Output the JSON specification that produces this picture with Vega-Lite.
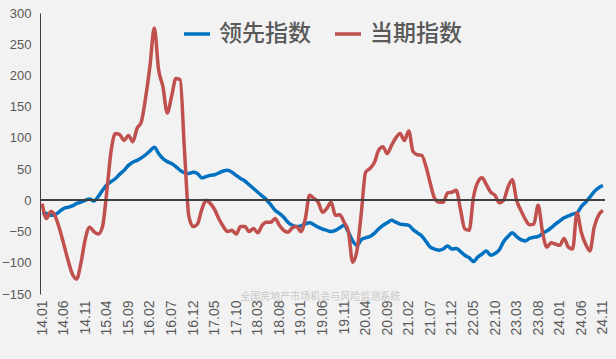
{
"$schema": "https://vega.github.io/schema/vega-lite/v6.json",
"autosize": {"type": "none"},
"width": 565, "height": 281,
"padding": {"left": 40, "top": 13, "right": 11, "bottom": 65},
"background": "#f2f2f2",
"config": {"view": {"stroke": null}, "font": "Liberation Sans",
"axisY": {"values": [-150,-100,-50,0,50,100,150,200,250,300], "labelOverlap": false, "grid": false, "ticks": false, "domainColor": "#404040", "labelFontSize": 13, "labelColor": "#595959", "labelPadding": 9, "title": null}},
"data": {"values": [
{"m":"14.01","s":"领先指数","v":-20},{"m":"14.02","s":"领先指数","v":-21},{"m":"14.03","s":"领先指数","v":-24},{"m":"14.04","s":"领先指数","v":-23},{"m":"14.05","s":"领先指数","v":-18},{"m":"14.06","s":"领先指数","v":-13},{"m":"14.07","s":"领先指数","v":-11},{"m":"14.08","s":"领先指数","v":-9},{"m":"14.09","s":"领先指数","v":-5},{"m":"14.10","s":"领先指数","v":-3},{"m":"14.11","s":"领先指数","v":0},{"m":"14.12","s":"领先指数","v":2},
{"m":"15.01","s":"领先指数","v":-1},{"m":"15.02","s":"领先指数","v":6},{"m":"15.03","s":"领先指数","v":16},{"m":"15.04","s":"领先指数","v":25},{"m":"15.05","s":"领先指数","v":30},{"m":"15.06","s":"领先指数","v":35},{"m":"15.07","s":"领先指数","v":42},{"m":"15.08","s":"领先指数","v":48},{"m":"15.09","s":"领先指数","v":56},{"m":"15.10","s":"领先指数","v":61},{"m":"15.11","s":"领先指数","v":64},{"m":"15.12","s":"领先指数","v":68},
{"m":"16.01","s":"领先指数","v":73},{"m":"16.02","s":"领先指数","v":79},{"m":"16.03","s":"领先指数","v":85},{"m":"16.04","s":"领先指数","v":75},{"m":"16.05","s":"领先指数","v":67},{"m":"16.06","s":"领先指数","v":62},{"m":"16.07","s":"领先指数","v":59},{"m":"16.08","s":"领先指数","v":54},{"m":"16.09","s":"领先指数","v":48},{"m":"16.10","s":"领先指数","v":44},{"m":"16.11","s":"领先指数","v":43},{"m":"16.12","s":"领先指数","v":45},
{"m":"17.01","s":"领先指数","v":43},{"m":"17.02","s":"领先指数","v":36},{"m":"17.03","s":"领先指数","v":38},{"m":"17.04","s":"领先指数","v":40},{"m":"17.05","s":"领先指数","v":41},{"m":"17.06","s":"领先指数","v":44},{"m":"17.07","s":"领先指数","v":47},{"m":"17.08","s":"领先指数","v":48},{"m":"17.09","s":"领先指数","v":45},{"m":"17.10","s":"领先指数","v":40},{"m":"17.11","s":"领先指数","v":35},{"m":"17.12","s":"领先指数","v":31},
{"m":"18.01","s":"领先指数","v":25},{"m":"18.02","s":"领先指数","v":19},{"m":"18.03","s":"领先指数","v":13},{"m":"18.04","s":"领先指数","v":7},{"m":"18.05","s":"领先指数","v":1},{"m":"18.06","s":"领先指数","v":-7},{"m":"18.07","s":"领先指数","v":-16},{"m":"18.08","s":"领先指数","v":-21},{"m":"18.09","s":"领先指数","v":-27},{"m":"18.10","s":"领先指数","v":-35},{"m":"18.11","s":"领先指数","v":-40},{"m":"18.12","s":"领先指数","v":-42},
{"m":"19.01","s":"领先指数","v":-41},{"m":"19.02","s":"领先指数","v":-38},{"m":"19.03","s":"领先指数","v":-36},{"m":"19.04","s":"领先指数","v":-39},{"m":"19.05","s":"领先指数","v":-43},{"m":"19.06","s":"领先指数","v":-46},{"m":"19.07","s":"领先指数","v":-48},{"m":"19.08","s":"领先指数","v":-50},{"m":"19.09","s":"领先指数","v":-48},{"m":"19.10","s":"领先指数","v":-44},{"m":"19.11","s":"领先指数","v":-40},{"m":"19.12","s":"领先指数","v":-51},
{"m":"20.01","s":"领先指数","v":-65},{"m":"20.02","s":"领先指数","v":-72},{"m":"20.03","s":"领先指数","v":-63},{"m":"20.04","s":"领先指数","v":-60},{"m":"20.05","s":"领先指数","v":-58},{"m":"20.06","s":"领先指数","v":-53},{"m":"20.07","s":"领先指数","v":-46},{"m":"20.08","s":"领先指数","v":-40},{"m":"20.09","s":"领先指数","v":-36},{"m":"20.10","s":"领先指数","v":-32},{"m":"20.11","s":"领先指数","v":-35},{"m":"20.12","s":"领先指数","v":-38},
{"m":"21.01","s":"领先指数","v":-39},{"m":"21.02","s":"领先指数","v":-40},{"m":"21.03","s":"领先指数","v":-47},{"m":"21.04","s":"领先指数","v":-52},{"m":"21.05","s":"领先指数","v":-57},{"m":"21.06","s":"领先指数","v":-66},{"m":"21.07","s":"领先指数","v":-75},{"m":"21.08","s":"领先指数","v":-78},{"m":"21.09","s":"领先指数","v":-80},{"m":"21.10","s":"领先指数","v":-78},{"m":"21.11","s":"领先指数","v":-73},{"m":"21.12","s":"领先指数","v":-78},
{"m":"22.01","s":"领先指数","v":-77},{"m":"22.02","s":"领先指数","v":-82},{"m":"22.03","s":"领先指数","v":-88},{"m":"22.04","s":"领先指数","v":-92},{"m":"22.05","s":"领先指数","v":-98},{"m":"22.06","s":"领先指数","v":-91},{"m":"22.07","s":"领先指数","v":-86},{"m":"22.08","s":"领先指数","v":-81},{"m":"22.09","s":"领先指数","v":-88},{"m":"22.10","s":"领先指数","v":-85},{"m":"22.11","s":"领先指数","v":-79},{"m":"22.12","s":"领先指数","v":-66},
{"m":"23.01","s":"领先指数","v":-58},{"m":"23.02","s":"领先指数","v":-52},{"m":"23.03","s":"领先指数","v":-58},{"m":"23.04","s":"领先指数","v":-63},{"m":"23.05","s":"领先指数","v":-65},{"m":"23.06","s":"领先指数","v":-61},{"m":"23.07","s":"领先指数","v":-59},{"m":"23.08","s":"领先指数","v":-58},{"m":"23.09","s":"领先指数","v":-53},{"m":"23.10","s":"领先指数","v":-49},{"m":"23.11","s":"领先指数","v":-44},{"m":"23.12","s":"领先指数","v":-38},
{"m":"24.01","s":"领先指数","v":-33},{"m":"24.02","s":"领先指数","v":-28},{"m":"24.03","s":"领先指数","v":-25},{"m":"24.04","s":"领先指数","v":-22},{"m":"24.05","s":"领先指数","v":-20},{"m":"24.06","s":"领先指数","v":-10},{"m":"24.07","s":"领先指数","v":-3},{"m":"24.08","s":"领先指数","v":5},{"m":"24.09","s":"领先指数","v":14},{"m":"24.10","s":"领先指数","v":20},{"m":"24.11","s":"领先指数","v":24},
{"m":"14.01","s":"当期指数","v":-5},{"m":"14.02","s":"当期指数","v":-29},{"m":"14.03","s":"当期指数","v":-18},{"m":"14.04","s":"当期指数","v":-25},{"m":"14.05","s":"当期指数","v":-45},{"m":"14.06","s":"当期指数","v":-70},{"m":"14.07","s":"当期指数","v":-96},{"m":"14.08","s":"当期指数","v":-118},{"m":"14.09","s":"当期指数","v":-126},{"m":"14.10","s":"当期指数","v":-100},{"m":"14.11","s":"当期指数","v":-62},{"m":"14.12","s":"当期指数","v":-43},
{"m":"15.01","s":"当期指数","v":-50},{"m":"15.02","s":"当期指数","v":-54},{"m":"15.03","s":"当期指数","v":-42},{"m":"15.04","s":"当期指数","v":15},{"m":"15.05","s":"当期指数","v":80},{"m":"15.06","s":"当期指数","v":107},{"m":"15.07","s":"当期指数","v":105},{"m":"15.08","s":"当期指数","v":96},{"m":"15.09","s":"当期指数","v":104},{"m":"15.10","s":"当期指数","v":94},{"m":"15.11","s":"当期指数","v":115},{"m":"15.12","s":"当期指数","v":126},
{"m":"16.01","s":"当期指数","v":165},{"m":"16.02","s":"当期指数","v":215},{"m":"16.03","s":"当期指数","v":276},{"m":"16.04","s":"当期指数","v":209},{"m":"16.05","s":"当期指数","v":182},{"m":"16.06","s":"当期指数","v":140},{"m":"16.07","s":"当期指数","v":166},{"m":"16.08","s":"当期指数","v":195},{"m":"16.09","s":"当期指数","v":193},{"m":"16.10","s":"当期指数","v":80},{"m":"16.11","s":"当期指数","v":-25},{"m":"16.12","s":"当期指数","v":-42},
{"m":"17.01","s":"当期指数","v":-38},{"m":"17.02","s":"当期指数","v":-15},{"m":"17.03","s":"当期指数","v":0},{"m":"17.04","s":"当期指数","v":-5},{"m":"17.05","s":"当期指数","v":-15},{"m":"17.06","s":"当期指数","v":-30},{"m":"17.07","s":"当期指数","v":-42},{"m":"17.08","s":"当期指数","v":-50},{"m":"17.09","s":"当期指数","v":-48},{"m":"17.10","s":"当期指数","v":-54},{"m":"17.11","s":"当期指数","v":-42},{"m":"17.12","s":"当期指数","v":-42},
{"m":"18.01","s":"当期指数","v":-50},{"m":"18.02","s":"当期指数","v":-45},{"m":"18.03","s":"当期指数","v":-52},{"m":"18.04","s":"当期指数","v":-40},{"m":"18.05","s":"当期指数","v":-35},{"m":"18.06","s":"当期指数","v":-35},{"m":"18.07","s":"当期指数","v":-29},{"m":"18.08","s":"当期指数","v":-40},{"m":"18.09","s":"当期指数","v":-48},{"m":"18.10","s":"当期指数","v":-51},{"m":"18.11","s":"当期指数","v":-44},{"m":"18.12","s":"当期指数","v":-42},
{"m":"19.01","s":"当期指数","v":-50},{"m":"19.02","s":"当期指数","v":-30},{"m":"19.03","s":"当期指数","v":8},{"m":"19.04","s":"当期指数","v":3},{"m":"19.05","s":"当期指数","v":-3},{"m":"19.06","s":"当期指数","v":-19},{"m":"19.07","s":"当期指数","v":-13},{"m":"19.08","s":"当期指数","v":-3},{"m":"19.09","s":"当期指数","v":-24},{"m":"19.10","s":"当期指数","v":-23},{"m":"19.11","s":"当期指数","v":-35},{"m":"19.12","s":"当期指数","v":-50},
{"m":"20.01","s":"当期指数","v":-99},{"m":"20.02","s":"当期指数","v":-80},{"m":"20.03","s":"当期指数","v":-20},{"m":"20.04","s":"当期指数","v":45},{"m":"20.05","s":"当期指数","v":51},{"m":"20.06","s":"当期指数","v":60},{"m":"20.07","s":"当期指数","v":80},{"m":"20.08","s":"当期指数","v":86},{"m":"20.09","s":"当期指数","v":75},{"m":"20.10","s":"当期指数","v":88},{"m":"20.11","s":"当期指数","v":100},{"m":"20.12","s":"当期指数","v":107},
{"m":"21.01","s":"当期指数","v":96},{"m":"21.02","s":"当期指数","v":111},{"m":"21.03","s":"当期指数","v":78},{"m":"21.04","s":"当期指数","v":73},{"m":"21.05","s":"当期指数","v":72},{"m":"21.06","s":"当期指数","v":54},{"m":"21.07","s":"当期指数","v":27},{"m":"21.08","s":"当期指数","v":3},{"m":"21.09","s":"当期指数","v":-3},{"m":"21.10","s":"当期指数","v":-3},{"m":"21.11","s":"当期指数","v":12},{"m":"21.12","s":"当期指数","v":13},
{"m":"22.01","s":"当期指数","v":16},{"m":"22.02","s":"当期指数","v":-15},{"m":"22.03","s":"当期指数","v":-46},{"m":"22.04","s":"当期指数","v":-48},{"m":"22.05","s":"当期指数","v":5},{"m":"22.06","s":"当期指数","v":29},{"m":"22.07","s":"当期指数","v":36},{"m":"22.08","s":"当期指数","v":25},{"m":"22.09","s":"当期指数","v":13},{"m":"22.10","s":"当期指数","v":8},{"m":"22.11","s":"当期指数","v":-4},{"m":"22.12","s":"当期指数","v":0},
{"m":"23.01","s":"当期指数","v":21},{"m":"23.02","s":"当期指数","v":33},{"m":"23.03","s":"当期指数","v":0},{"m":"23.04","s":"当期指数","v":-16},{"m":"23.05","s":"当期指数","v":-30},{"m":"23.06","s":"当期指数","v":-39},{"m":"23.07","s":"当期指数","v":-38},{"m":"23.08","s":"当期指数","v":-8},{"m":"23.09","s":"当期指数","v":-50},{"m":"23.10","s":"当期指数","v":-75},{"m":"23.11","s":"当期指数","v":-68},{"m":"23.12","s":"当期指数","v":-70},
{"m":"24.01","s":"当期指数","v":-72},{"m":"24.02","s":"当期指数","v":-61},{"m":"24.03","s":"当期指数","v":-75},{"m":"24.04","s":"当期指数","v":-78},{"m":"24.05","s":"当期指数","v":-20},{"m":"24.06","s":"当期指数","v":-51},{"m":"24.07","s":"当期指数","v":-70},{"m":"24.08","s":"当期指数","v":-81},{"m":"24.09","s":"当期指数","v":-43},{"m":"24.10","s":"当期指数","v":-24},{"m":"24.11","s":"当期指数","v":-16}
]},
"encoding": {
"x": {"field": "m", "type": "ordinal", "sort": null,
"scale": {"type": "point", "padding": 0.5},
"axis": {"title": null, "domain": false, "ticks": false, "labelAngle": -90, "labelFontSize": 14, "labelColor": "#595959", "labelPadding": 6,
"values": ["14.01","14.06","14.11","15.04","15.09","16.02","16.07","16.12","17.05","17.10","18.03","18.08","19.01","19.06","19.11","20.04","20.09","21.02","21.07","21.12","22.05","22.10","23.03","23.08","24.01","24.06","24.11"]}},
"y": {"field": "v", "type": "quantitative",
"scale": {"domain": [-150, 300], "nice": false, "zero": false}}
},
"layer": [
{
"mark": {"type": "line", "strokeWidth": 3.5, "interpolate": "monotone"},
"encoding": {
"color": {"field": "s", "type": "nominal",
"scale": {"domain": ["领先指数", "当期指数"], "range": ["#0070C0", "#C0504D"]},
"legend": {"title": null, "orient": "none", "direction": "horizontal", "legendX": 142, "legendY": 6,
"symbolType": "stroke", "symbolSize": 676, "symbolStrokeWidth": 3.5, "labelFontSize": 23, "labelFont": "Noto Sans CJK SC", "labelFontWeight": 500, "labelColor": "#595959", "labelOffset": 7, "columnPadding": 17, "labelLimit": 300}}
}
},
{
"mark": {"type": "rule", "color": "#404040", "strokeWidth": 1},
"encoding": {"x": null, "y": {"datum": 0, "type": "quantitative", "scale": {"domain": [-150, 300], "nice": false, "zero": false}}}
},
{
"transform": [{"filter": "datum.m == '19.05' && datum.s == '领先指数'"}],
"mark": {"type": "text", "text": "全国房地产市场机会与风险监测系统", "color": "#c9c9c9", "fontSize": 10, "font": "Noto Sans CJK SC", "baseline": "top", "dy": -2, "dx": 2},
"encoding": {
"y": {"datum": -150, "type": "quantitative", "scale": {"domain": [-150, 300], "nice": false, "zero": false}}
}
}
]
}
